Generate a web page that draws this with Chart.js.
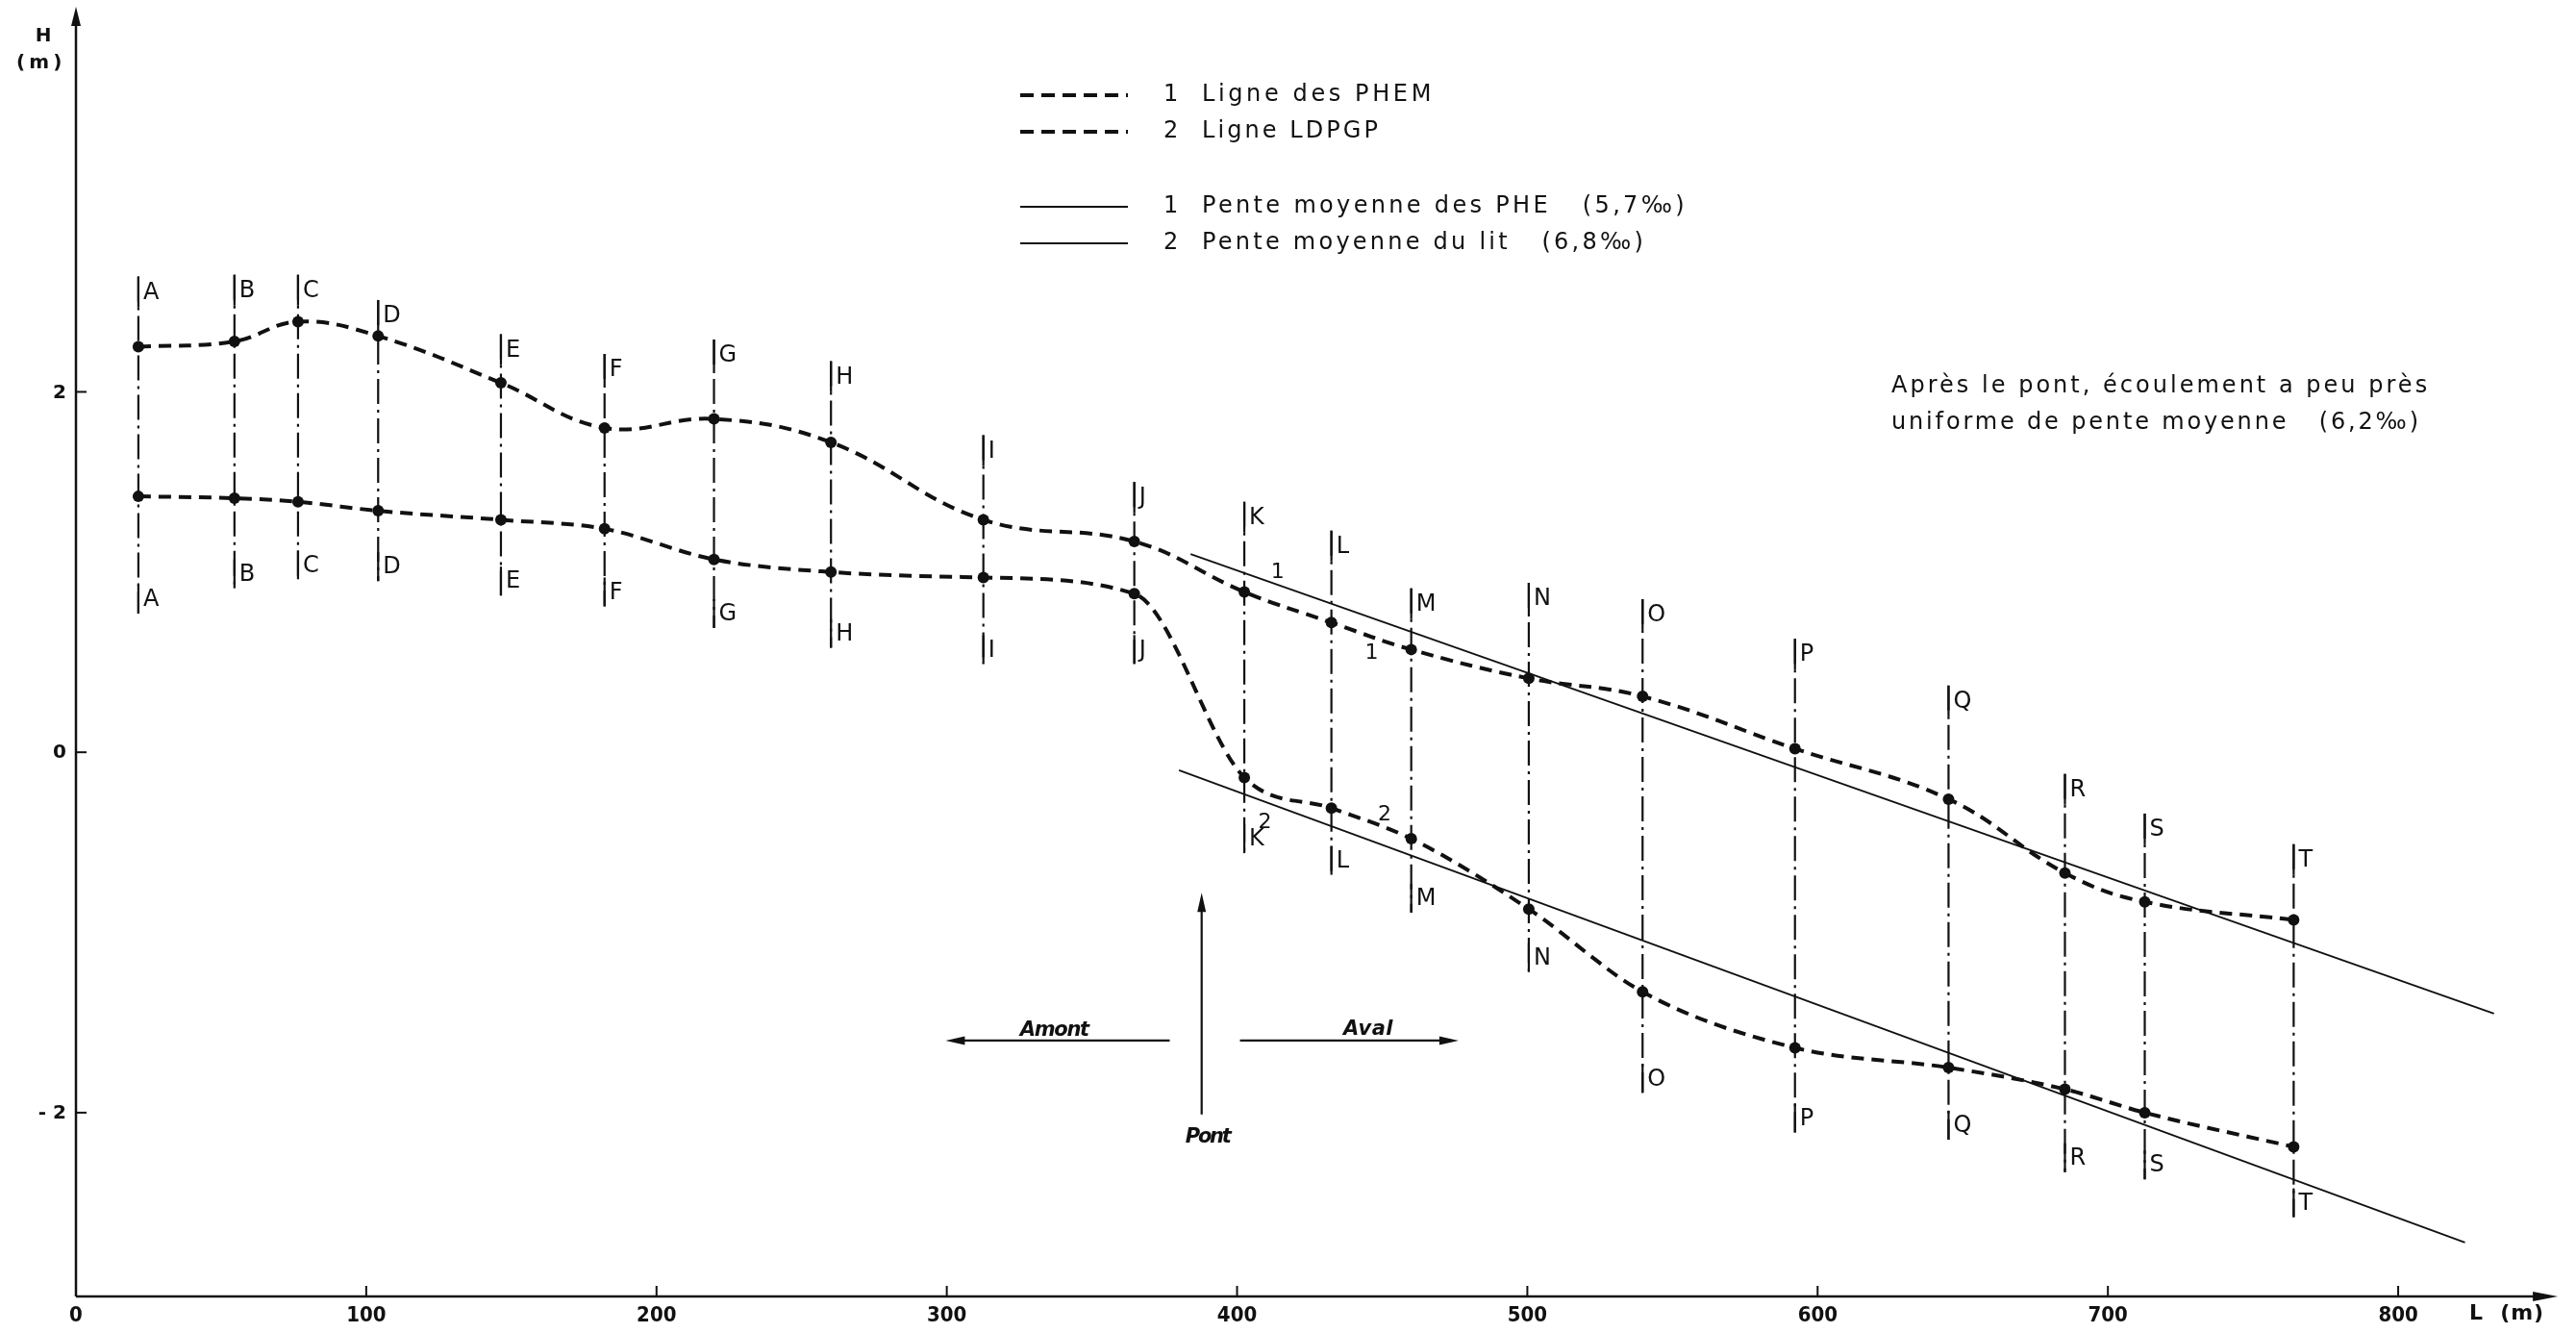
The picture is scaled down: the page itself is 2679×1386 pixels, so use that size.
<!DOCTYPE html>
<html><head><meta charset="utf-8">
<script src="https://cdn.jsdelivr.net/npm/chart.js@4/dist/chart.umd.min.js"></script>
<style>html,body{margin:0;padding:0;background:#fff;overflow:hidden}#wrap{width:2679px;height:1386px;position:relative}</style>
</head><body><div id="wrap"><canvas id="c"></canvas></div>
<script>
// ---- data ----
const stations = ['A','B','C','D','E','F','G','H','I','J','K','L','M','N','O','P','Q','R','S','T'];
const distances = [21.5, 54.6, 76.5, 104.1, 146.4, 182.1, 219.8, 260.1, 312.6, 364.6, 402.5, 432.5, 460, 500.5, 539.7, 592.2, 645.1, 685.2, 712.7, 764];
const phem  = [2.25, 2.28, 2.39, 2.31, 2.05, 1.80, 1.85, 1.72, 1.29, 1.17, 0.89, 0.72, 0.57, 0.41, 0.31, 0.02, -0.26, -0.67, -0.83, -0.93];
const ldpgp = [1.42, 1.41, 1.39, 1.34, 1.29, 1.24, 1.07, 1.00, 0.97, 0.88, -0.14, -0.31, -0.48, -0.87, -1.33, -1.64, -1.75, -1.87, -2.00, -2.19];
const stationTop    = [2.64, 2.65, 2.65, 2.51, 2.32, 2.21, 2.29, 2.17, 1.76, 1.50, 1.39, 1.23, 0.91, 0.94, 0.85, 0.63, 0.37, -0.12, -0.34, -0.51];
const stationBottom = [0.77, 0.91, 0.96, 0.95, 0.87, 0.81, 0.69, 0.58, 0.49, 0.49, -0.56, -0.68, -0.89, -1.22, -1.89, -2.11, -2.15, -2.33, -2.37, -2.58];
const pheSlopeX = [384, 833];
const pheSlopeY = [1.10, -1.45];
const litSlopeX = [380, 823];
const litSlopeY = [-0.10, -2.72];
const xTicks = [0, 100, 200, 300, 400, 500, 600, 700, 800];
const xTickLabels = ['0','100','200','300','400','500','600','700','800'];
const yTicks = [-2, 0, 2];
const yTickLabels = ['- 2', '0', '2'];
const legendNums = ['1', '2', '1', '2'];
const legendTexts = ['Ligne des PHEM', 'Ligne LDPGP', 'Pente moyenne des PHE   (5,7\u2030)', 'Pente moyenne du lit   (6,8\u2030)'];
const noteLines = ['Apr\u00e8s le pont, \u00e9coulement a peu pr\u00e8s', 'uniforme de pente moyenne   (6,2\u2030)'];
const lineNumLabels = [ {t:'1', x:414, y:1.00}, {t:'1', x:446.4, y:0.55}, {t:'2', x:450.8, y:-0.35}, {t:'2', x:409.6, y:-0.39} ];
const pont = {x: 387.8, tip: -0.78, base: -2.01, label: -2.135};
const amont = {from: 376.8, to: 299.6, y: -1.60, labelX: 337, labelY: -1.545};
const aval = {from: 401, to: 476.3, y: -1.60, labelX: 445.2, labelY: -1.538};
const axisEnd = {x: 855, y: 4.137};

const FONT = "'DejaVu Sans', 'Liberation Sans', sans-serif";
const FONT_NARROW = "'Liberation Sans Narrow', 'DejaVu Sans Condensed', 'DejaVu Sans', sans-serif";

function pts(xs, ys){ return xs.map((x,i)=>({x:x, y:ys[i]})); }

const datasets = [
  {label:'1 Ligne des PHEM', data: pts(distances, phem), borderColor:'#111', backgroundColor:'#111', borderWidth:4, borderDash:[13,8], pointRadius:6, pointBackgroundColor:'#111', pointBorderWidth:0, tension:0.4},
  {label:'2 Ligne LDPGP', data: pts(distances, ldpgp), borderColor:'#111', backgroundColor:'#111', borderWidth:4, borderDash:[13,8], pointRadius:6, pointBackgroundColor:'#111', pointBorderWidth:0, cubicInterpolationMode:'monotone'},
  {label:'1 Pente moyenne des PHE', data: pts(pheSlopeX, pheSlopeY), borderColor:'#111', borderWidth:1.8, pointRadius:0, tension:0},
  {label:'2 Pente moyenne du lit', data: pts(litSlopeX, litSlopeY), borderColor:'#111', borderWidth:1.8, pointRadius:0, tension:0}
];
stations.forEach((s,i)=>{
  datasets.push({label:'Profil '+s, data:[{x:distances[i], y:stationTop[i]},{x:distances[i], y:stationBottom[i]}], borderColor:'#111', borderWidth:2.2, borderDash:[26,6,3,6], pointRadius:0, tension:0});
});

function fitText(ctx, text, x, y, width, font, align){
  ctx.font = font;
  ctx.letterSpacing = '0px';
  const w = ctx.measureText(text).width;
  const ls = (width - w) / text.length;
  ctx.letterSpacing = ls.toFixed(2) + 'px';
  ctx.textAlign = 'left';
  const sx = align === 'center' ? x - width/2 : x;
  ctx.fillText(text, sx, y);
  ctx.letterSpacing = '0px';
}
function arrowHead(ctx, tx, ty, dx, dy, len, half){
  const px = -dy, py = dx;
  ctx.beginPath();
  ctx.moveTo(tx, ty);
  ctx.lineTo(tx - dx*len + px*half, ty - dy*len + py*half);
  ctx.lineTo(tx - dx*len - px*half, ty - dy*len - py*half);
  ctx.closePath();
  ctx.fill();
}

const profilePlugin = {
  id: 'profile',
  beforeDatasetsDraw(chart){
    const ctx = chart.ctx, X = chart.scales.x, Y = chart.scales.y;
    const x0 = X.getPixelForValue(0), yb = chart.chartArea.bottom;
    ctx.save();
    ctx.strokeStyle = '#111'; ctx.fillStyle = '#111'; ctx.lineWidth = 2.5; ctx.setLineDash([]);
    const xe = X.getPixelForValue(axisEnd.x), ye = Y.getPixelForValue(axisEnd.y);
    ctx.beginPath(); ctx.moveTo(x0, yb); ctx.lineTo(xe - 15, yb); ctx.stroke();
    arrowHead(ctx, xe, yb, 1, 0, 26, 5);
    ctx.beginPath(); ctx.moveTo(x0, yb); ctx.lineTo(x0, ye + 15); ctx.stroke();
    arrowHead(ctx, x0, ye, 0, -1, 20, 5);
    ctx.lineWidth = 2;
    xTicks.forEach((v,i)=>{
      const px = X.getPixelForValue(v);
      ctx.beginPath(); ctx.moveTo(px, yb); ctx.lineTo(px, yb - 11); ctx.stroke();
      ctx.font = 'bold 22px ' + FONT_NARROW; ctx.textAlign = 'center'; ctx.textBaseline = 'middle';
      ctx.fillText(xTickLabels[i], px, yb + 20);
    });
    yTicks.forEach((v,i)=>{
      const py = Y.getPixelForValue(v);
      ctx.beginPath(); ctx.moveTo(x0, py); ctx.lineTo(x0 + 11, py); ctx.stroke();
      ctx.font = 'bold 20px ' + FONT; ctx.textAlign = 'right'; ctx.textBaseline = 'middle';
      ctx.fillText(yTickLabels[i], x0 - 10, py + 1);
    });
    ctx.textBaseline = 'middle';
    ctx.font = 'bold 20px ' + FONT; ctx.textAlign = 'center';
    ctx.fillText('H', 45, 38);
    fitText(ctx, '( m )', 40, 66, 46, 'bold 20px ' + FONT, 'center');
    fitText(ctx, 'L  (m)', 2568, 1366, 78, 'bold 22px ' + FONT, 'left');
    ctx.restore();
  },
  afterDatasetsDraw(chart){
    const ctx = chart.ctx, X = chart.scales.x, Y = chart.scales.y;
    ctx.save();
    ctx.strokeStyle = '#111'; ctx.fillStyle = '#111'; ctx.setLineDash([]);
    stations.forEach((s,i)=>{
      const px = X.getPixelForValue(distances[i]);
      const pt = Y.getPixelForValue(stationTop[i]);
      const pb = Y.getPixelForValue(stationBottom[i]);
      ctx.lineWidth = 2.2;
      ctx.beginPath(); ctx.moveTo(px, pt); ctx.lineTo(px, pt + 32); ctx.stroke();
      ctx.beginPath(); ctx.moveTo(px, pb - 30); ctx.lineTo(px, pb); ctx.stroke();
      ctx.font = '24px ' + FONT; ctx.textAlign = 'left'; ctx.textBaseline = 'middle';
      ctx.fillText(s, px + 5, pt + 17);
      ctx.fillText(s, px + 5, pb - 14);
    });
    ctx.font = '22px ' + FONT; ctx.textAlign = 'center'; ctx.textBaseline = 'middle';
    lineNumLabels.forEach(l=>{ ctx.fillText(l.t, X.getPixelForValue(l.x), Y.getPixelForValue(l.y)); });
    ctx.lineWidth = 2.2;
    const pX = X.getPixelForValue(pont.x), pT = Y.getPixelForValue(pont.tip), pB = Y.getPixelForValue(pont.base);
    ctx.beginPath(); ctx.moveTo(pX, pB); ctx.lineTo(pX, pT + 10); ctx.stroke();
    arrowHead(ctx, pX, pT, 0, -1, 20, 4.5);
    fitText(ctx, 'Pont', pX + 6, Y.getPixelForValue(pont.label), 46, 'italic bold 21px ' + FONT, 'center');
    const ay = Y.getPixelForValue(amont.y);
    const a1 = X.getPixelForValue(amont.from), a2 = X.getPixelForValue(amont.to);
    ctx.beginPath(); ctx.moveTo(a1, ay); ctx.lineTo(a2 + 10, ay); ctx.stroke();
    arrowHead(ctx, a2, ay, -1, 0, 20, 4.5);
    fitText(ctx, 'Amont', X.getPixelForValue(amont.labelX), Y.getPixelForValue(amont.labelY), 71, 'italic bold 21px ' + FONT, 'center');
    const vy = Y.getPixelForValue(aval.y);
    const v1 = X.getPixelForValue(aval.from), v2 = X.getPixelForValue(aval.to);
    ctx.beginPath(); ctx.moveTo(v1, vy); ctx.lineTo(v2 - 10, vy); ctx.stroke();
    arrowHead(ctx, v2, vy, 1, 0, 20, 4.5);
    fitText(ctx, 'Aval', X.getPixelForValue(aval.labelX), Y.getPixelForValue(aval.labelY), 52, 'italic bold 21px ' + FONT, 'center');
    const rows = [99, 137, 215, 253];
    const widths = [242, 186, 505, 462];
    rows.forEach((ry,i)=>{
      ctx.lineWidth = i < 2 ? 4 : 1.8;
      ctx.setLineDash(i < 2 ? [14, 8] : []);
      ctx.beginPath(); ctx.moveTo(1061, ry); ctx.lineTo(1173, ry); ctx.stroke();
      ctx.setLineDash([]);
      ctx.font = '24px ' + FONT; ctx.textAlign = 'left'; ctx.textBaseline = 'middle';
      ctx.fillText(legendNums[i], 1210, ry);
      fitText(ctx, legendTexts[i], 1250, ry, widths[i], '24px ' + FONT, 'left');
    });
    fitText(ctx, noteLines[0], 1967, 402, 560, '24px ' + FONT, 'left');
    fitText(ctx, noteLines[1], 1967, 440, 551, '24px ' + FONT, 'left');
    ctx.restore();
  }
};

new Chart(document.getElementById('c'), {
  type: 'line',
  data: { datasets: datasets },
  options: {
    responsive: true, maintainAspectRatio: false, animation: false,
    layout: { padding: { left: 79, right: 34, top: 14, bottom: 38 } },
    scales: {
      x: { type: 'linear', min: 0, max: 850, display: false },
      y: { type: 'linear', min: -3.02, max: 4.1, display: false }
    },
    plugins: { legend: { display: false }, tooltip: { enabled: false } }
  },
  plugins: [profilePlugin]
});
</script>
</body></html>
